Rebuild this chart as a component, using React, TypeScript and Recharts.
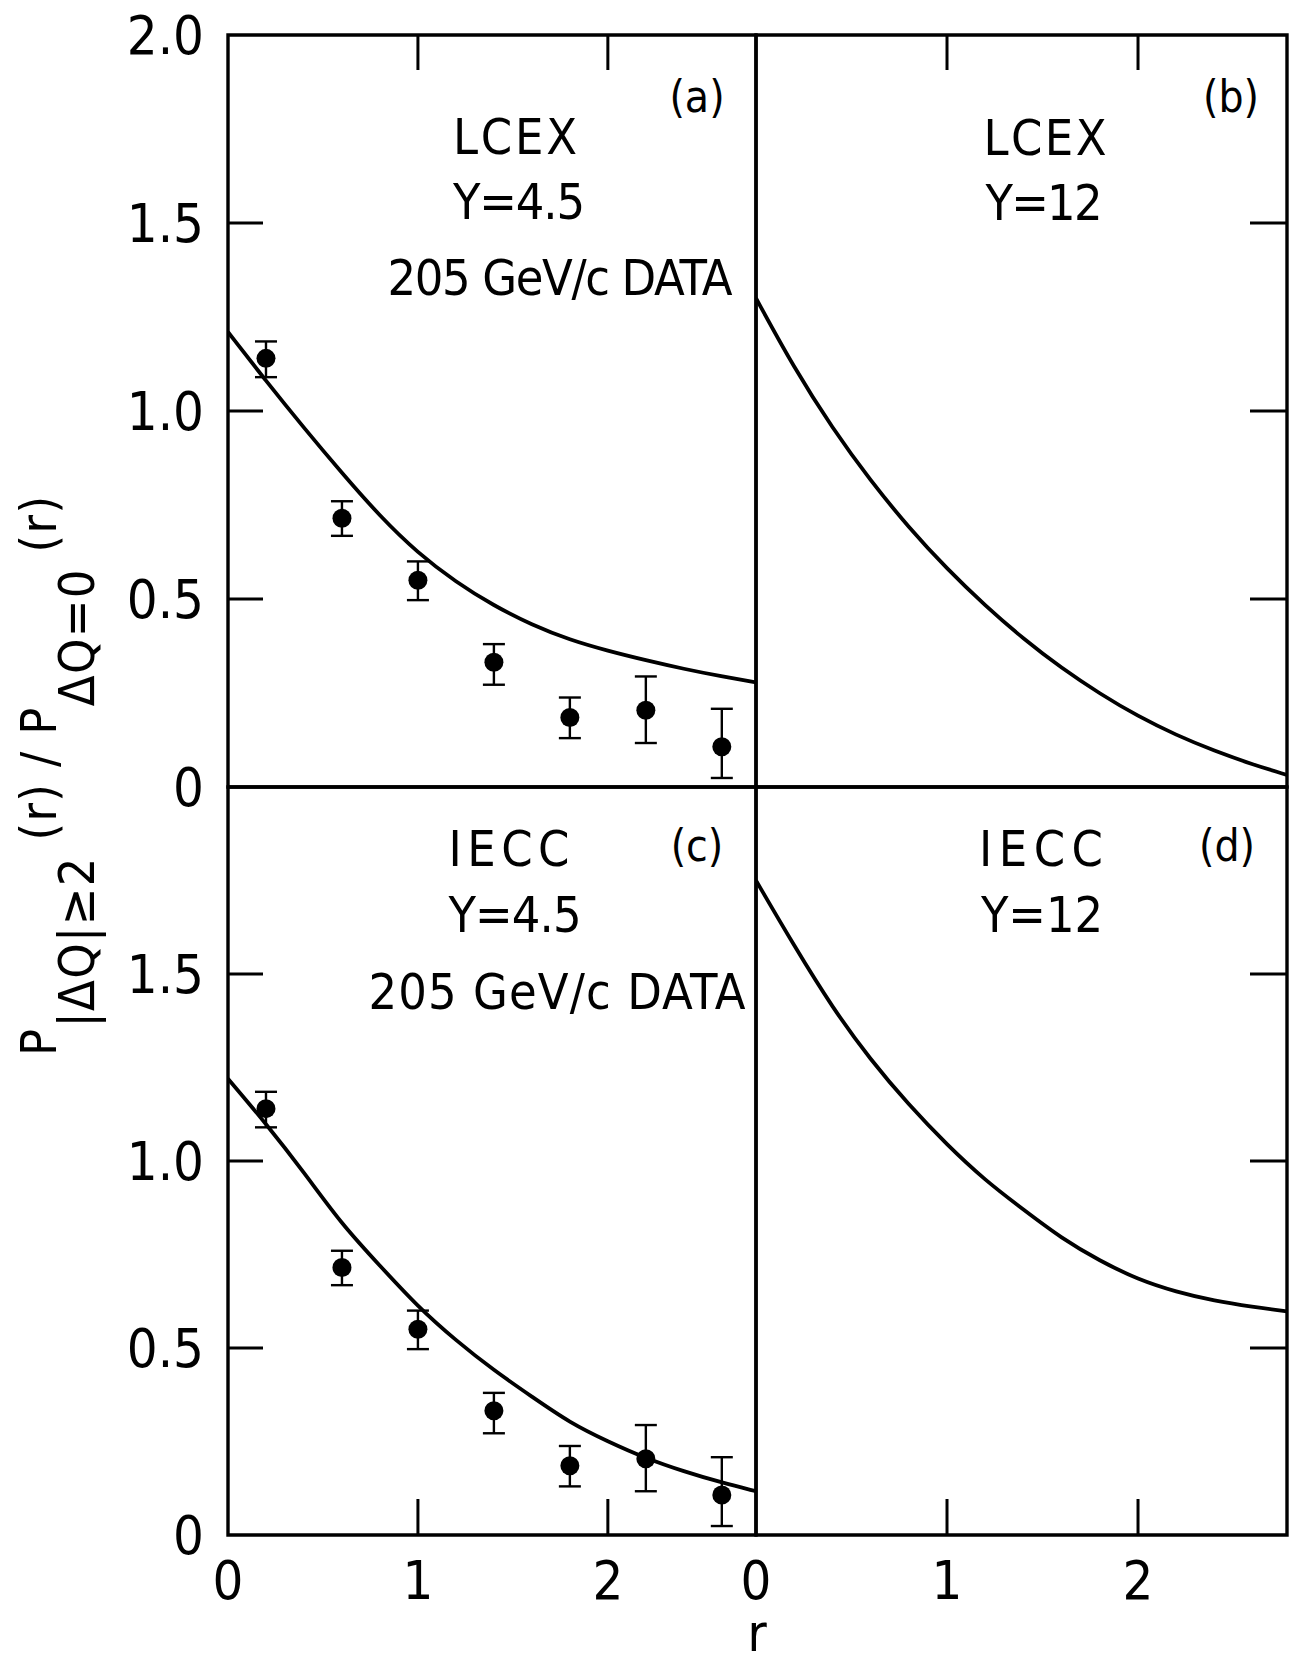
import React from "react";
import {
  ComposedChart,
  Line,
  Scatter,
  ErrorBar,
  XAxis,
  YAxis,
  ReferenceArea,
} from "recharts";

// r range shown in every panel
const R_MAX = 2.78;

// 205 GeV/c data (same points in panels a and c)
const pointR = [0.2, 0.6, 1.0, 1.4, 1.8, 2.2, 2.6];
const pointY = [1.14, 0.715, 0.55, 0.332, 0.185, 0.204, 0.107];
const pointLo = [1.09, 0.668, 0.497, 0.272, 0.13, 0.117, 0.024];
const pointHi = [1.185, 0.76, 0.6, 0.38, 0.238, 0.294, 0.208];

// model curves
const curveR = [0, 0.2, 0.4, 0.6, 0.8, 1.0, 1.2, 1.4, 1.6, 1.8, 2.0, 2.2, 2.4, 2.6, 2.78];
const curveA = [1.21, 1.08, 0.955, 0.835, 0.72, 0.622, 0.545, 0.482, 0.431, 0.391, 0.362, 0.337, 0.314, 0.294, 0.278];
const curveB = [1.3, 1.114, 0.954, 0.814, 0.69, 0.58, 0.482, 0.394, 0.316, 0.248, 0.188, 0.138, 0.096, 0.06, 0.032];
const curveC = [1.22, 1.1, 0.97, 0.83, 0.72, 0.61, 0.52, 0.44, 0.37, 0.3, 0.25, 0.205, 0.17, 0.14, 0.117];
const curveD = [1.75, 1.575, 1.41, 1.27, 1.15, 1.043, 0.948, 0.87, 0.793, 0.733, 0.683, 0.65, 0.626, 0.61, 0.598];

const xTicks = [0, 1, 2];
const yTicksTop = [0, 0.5, 1, 1.5, 2];
const yTicksBottom = [0, 0.5, 1, 1.5];

const FONT = "'DejaVu Sans Condensed', 'DejaVu Sans', sans-serif";
const INK = "#000";

const points = pointR.map((r, i) => ({
  r,
  y: pointY[i],
  err: [pointY[i] - pointLo[i], pointHi[i] - pointY[i]],
}));

const toCurve = (vals: number[]) => curveR.map((r, i) => ({ r, v: vals[i] }));

function fmtY(v: number) {
  return v === 0 ? "0" : v.toFixed(1);
}

function LeftTick(props: any) {
  const { x, y, payload } = props;
  const v = payload.value;
  return (
    <g>
      {v > 0 && v < 2 && (
        <line x1={x} x2={x + 35} y1={y} y2={y} stroke={INK} strokeWidth={3} />
      )}
      <text
        x={x - 24}
        y={y}
        dy="0.36em"
        textAnchor="end"
        fontFamily={FONT}
        fontSize={54}
        fill={INK}
      >
        {fmtY(v)}
      </text>
    </g>
  );
}

function RightTick(props: any) {
  const { x, y, payload } = props;
  const v = payload.value;
  if (!(v > 0 && v < 2)) return <g />;
  return <line x1={x} x2={x - 37} y1={y} y2={y} stroke={INK} strokeWidth={3} />;
}

function TopTick(props: any) {
  const { x, y, payload } = props;
  const v = payload.value;
  if (!(v > 0)) return <g />;
  return <line x1={x} x2={x} y1={y} y2={y + 35} stroke={INK} strokeWidth={3} />;
}

function BottomTick(props: any) {
  const { x, y, payload } = props;
  const v = payload.value;
  return (
    <g>
      {v > 0 && <line x1={x} x2={x} y1={y} y2={y - 36} stroke={INK} strokeWidth={3} />}
      <text
        x={x}
        y={y + 64}
        textAnchor="middle"
        fontFamily={FONT}
        fontSize={54}
        fill={INK}
      >
        {v}
      </text>
    </g>
  );
}

function Dot(props: any) {
  const { cx, cy } = props;
  if (cx == null || cy == null) return null;
  return <circle cx={cx} cy={cy} r={9.5} fill={INK} />;
}

interface PanelProps {
  side: "left" | "right";
  row: "top" | "bottom";
  curve: number[];
  withData: boolean;
}

function Panel({ side, row, curve, withData }: PanelProps) {
  const isLeft = side === "left";
  const isTop = row === "top";
  const width = isLeft ? 760 : 579;
  const height = isTop ? 837 : 851;
  const style: React.CSSProperties = {
    position: "absolute",
    left: isLeft ? 0 : 712,
    top: isTop ? 0 : 784,
  };

  return (
    <div style={style}>
      <ComposedChart
        width={width}
        height={height}
        margin={{
          top: isTop ? 0 : 3,
          right: isLeft ? 4 : 0,
          bottom: isTop ? 50 : 0,
          left: isLeft ? 0 : 44,
        }}
      >
        <XAxis
          dataKey="r"
          type="number"
          domain={[0, R_MAX]}
          allowDataOverflow
          ticks={xTicks}
          interval={0}
          orientation={isTop ? "top" : "bottom"}
          height={isTop ? 35 : 100}
          axisLine={false}
          tickLine={false}
          tickSize={0}
          tickMargin={0}
          tick={isTop ? <TopTick /> : <BottomTick />}
        />
        <YAxis
          type="number"
          domain={[0, 2]}
          allowDataOverflow
          ticks={isTop ? yTicksTop : yTicksBottom}
          interval={0}
          orientation={isLeft ? "left" : "right"}
          width={isLeft ? 228 : 4}
          axisLine={false}
          tickLine={false}
          tickSize={0}
          tickMargin={0}
          tick={isLeft ? <LeftTick /> : <RightTick />}
        />
        <ReferenceArea
          x1={0}
          x2={R_MAX}
          y1={0}
          y2={2}
          fill="none"
          stroke={INK}
          strokeWidth={3.4}
          ifOverflow="visible"
        />
        <Line
          data={toCurve(curve)}
          dataKey="v"
          type="basis"
          stroke={INK}
          strokeWidth={3.8}
          dot={false}
          activeDot={false}
          isAnimationActive={false}
        />
        {withData && (
          <Scatter
            data={points}
            dataKey="y"
            fill={INK}
            shape={<Dot />}
            isAnimationActive={false}
          >
            <ErrorBar
              dataKey="err"
              direction="y"
              width={11}
              stroke={INK}
              strokeWidth={2.4}
              isAnimationActive={false}
            />
          </Scatter>
        )}
      </ComposedChart>
    </div>
  );
}

const notes = [
  { t: "(a)", x: 697, y: 112, size: 44 },
  { t: "LCEX", x: 515, y: 154, w: 124 },
  { t: "Y=4.5", x: 519, y: 219, w: 132 },
  { t: "205 GeV/c DATA", x: 560, y: 295, w: 345 },
  { t: "(b)", x: 1231, y: 112, size: 44 },
  { t: "LCEX", x: 1045, y: 155, w: 123 },
  { t: "Y=12", x: 1044, y: 220, w: 117 },
  { t: "IECC", x: 509, y: 866, w: 121 },
  { t: "(c)", x: 697, y: 861, size: 44 },
  { t: "Y=4.5", x: 515, y: 932, w: 133 },
  { t: "205 GeV/c DATA", x: 557, y: 1009, w: 377 },
  { t: "IECC", x: 1041, y: 866, w: 124 },
  { t: "(d)", x: 1227, y: 861, size: 44 },
  { t: "Y=12", x: 1042, y: 932, w: 122 },
];

function Overlay() {
  return (
    <svg
      width={1291}
      height={1663}
      style={{ position: "absolute", left: 0, top: 0, pointerEvents: "none" }}
    >
      {notes.map((n, i) => (
        <text
          key={i}
          x={n.x}
          y={n.y}
          textAnchor="middle"
          fontFamily={FONT}
          fontSize={n.size ?? 50}
          fill={INK}
          {...(n.w ? { textLength: n.w, lengthAdjust: "spacing" } : {})}
        >
          {n.t}
        </text>
      ))}
      {/* axis titles */}
      <text x={757} y={1651} textAnchor="middle" fontFamily={FONT} fontSize={52} fill={INK}>
        r
      </text>
      <g transform="translate(56, 776) rotate(-90)">
        <text
          x={0}
          y={0}
          textAnchor="middle"
          fontFamily={FONT}
          fontSize={50}
          fill={INK}
          textLength={560}
          lengthAdjust="spacing"
        >
          P
          <tspan dy={38}>|ΔQ|≥2</tspan>
          <tspan dy={-38}> (r) / P</tspan>
          <tspan dy={38}>ΔQ=0</tspan>
          <tspan dy={-38}> (r)</tspan>
        </text>
      </g>
    </svg>
  );
}

export default function App() {
  return (
    <div
      style={{
        position: "absolute",
        left: 0,
        top: 0,
        width: 1291,
        height: 1663,
        background: "#fff",
        overflow: "hidden",
      }}
    >
      <Panel side="left" row="bottom" curve={curveC} withData />
      <Panel side="right" row="bottom" curve={curveD} withData={false} />
      <Panel side="left" row="top" curve={curveA} withData />
      <Panel side="right" row="top" curve={curveB} withData={false} />
      <Overlay />
    </div>
  );
}
